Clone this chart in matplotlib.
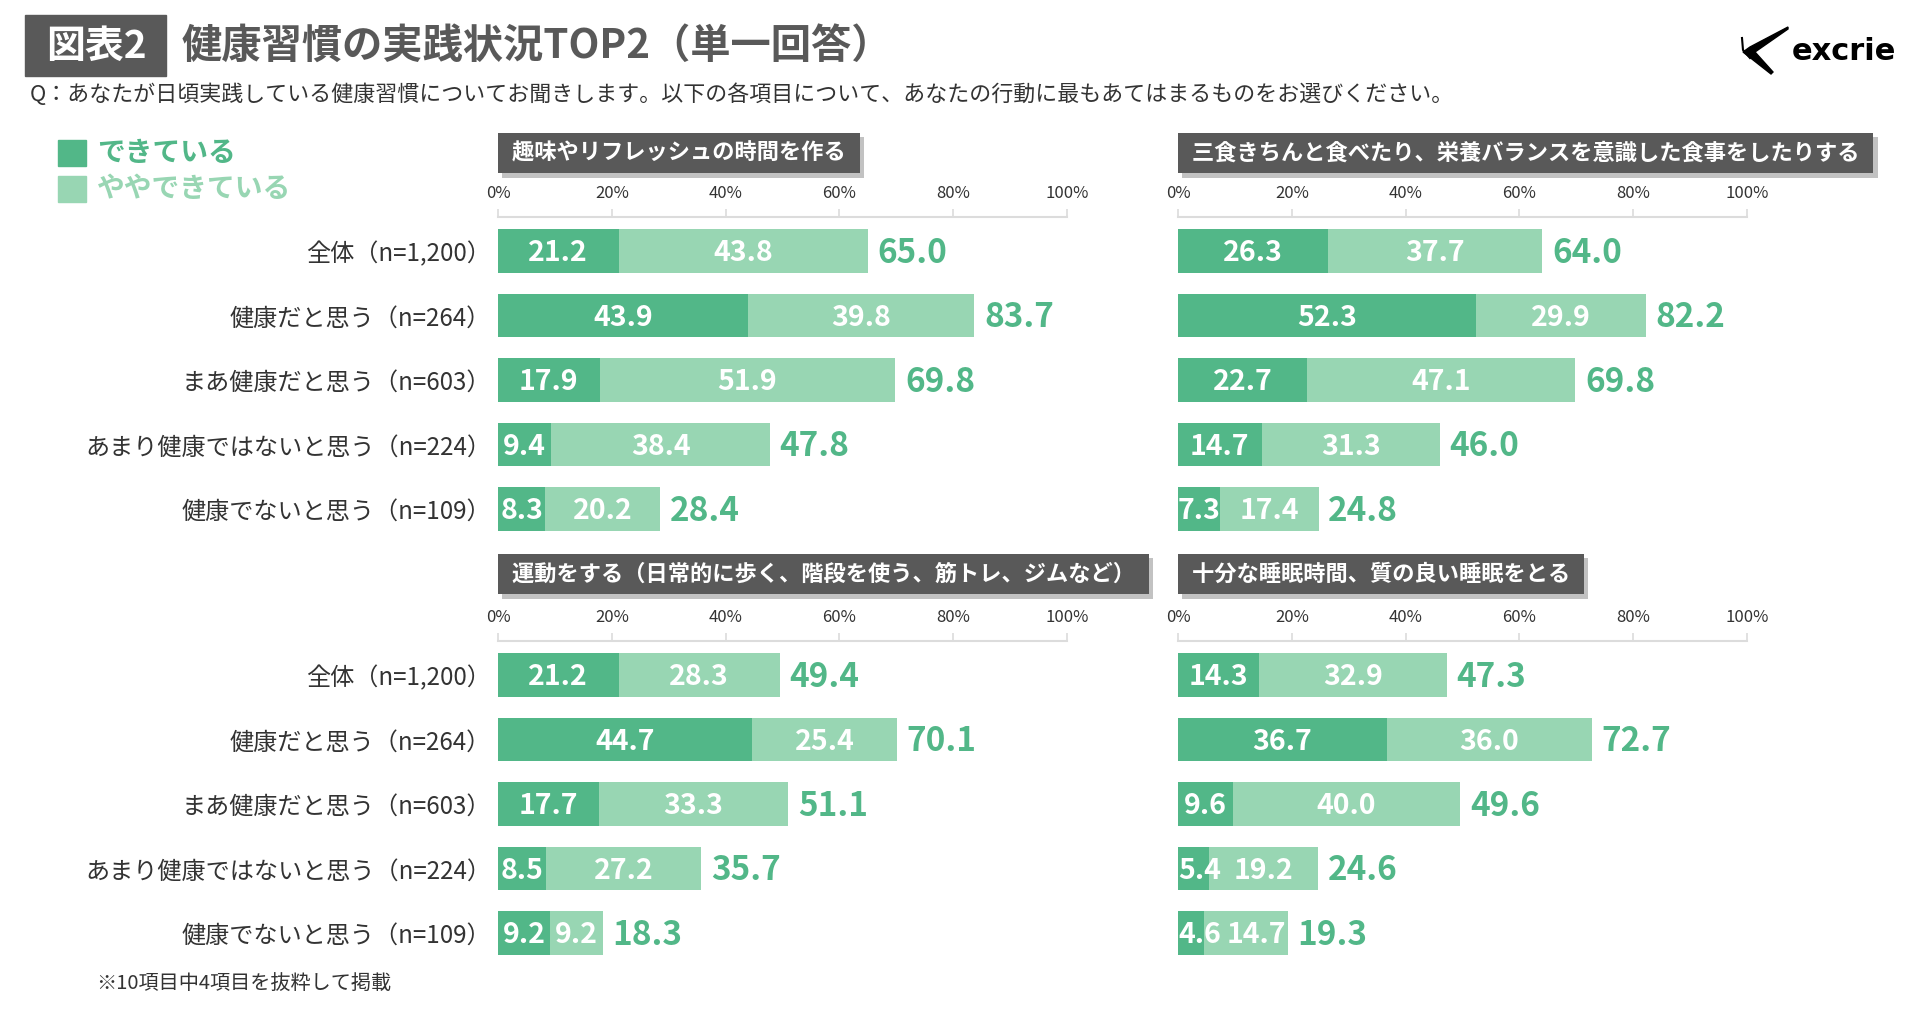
import numpy as np
import matplotlib
matplotlib.use("Agg")
import matplotlib.pyplot as plt
from matplotlib.patches import Rectangle, Polygon
import matplotlib.patheffects as pe

plt.rcParams['font.family'] = ['Noto Sans CJK JP', 'DejaVu Sans']

# ---- data ----
categories = ['全体（n=1,200）', '健康だと思う（n=264）', 'まあ健康だと思う（n=603）',
              'あまり健康ではないと思う（n=224）', '健康でないと思う（n=109）']
legend_labels = ['できている', 'ややできている']

hobby_title = '趣味やリフレッシュの時間を作る'
hobby_done = [21.2, 43.9, 17.9, 9.4, 8.3]
hobby_some = [43.8, 39.8, 51.9, 38.4, 20.2]
hobby_total = [65.0, 83.7, 69.8, 47.8, 28.4]

meal_title = '三食きちんと食べたり、栄養バランスを意識した食事をしたりする'
meal_done = [26.3, 52.3, 22.7, 14.7, 7.3]
meal_some = [37.7, 29.9, 47.1, 31.3, 17.4]
meal_total = [64.0, 82.2, 69.8, 46.0, 24.8]

exercise_title = '運動をする（日常的に歩く、階段を使う、筋トレ、ジムなど）'
exercise_done = [21.2, 44.7, 17.7, 8.5, 9.2]
exercise_some = [28.3, 25.4, 33.3, 27.2, 9.2]
exercise_total = [49.4, 70.1, 51.1, 35.7, 18.3]

sleep_title = '十分な睡眠時間、質の良い睡眠をとる'
sleep_done = [14.3, 36.7, 9.6, 5.4, 4.6]
sleep_some = [32.9, 36.0, 40.0, 19.2, 14.7]
sleep_total = [47.3, 72.7, 49.6, 24.6, 19.3]

x_ticks = [0, 20, 40, 60, 80, 100]

# ---- style ----
DARK = '#52b788'
LIGHT = '#98d6b3'
GREY = '#595959'
TEXT = '#333333'
W, H = 1919, 1009
STEP = 64.5          # row pitch in pixels
AX_W = 569           # 0-100% width in pixels


def fx(px):
    return px / W


def fy(py):
    return 1 - py / H


fig = plt.figure(figsize=(W / 100, H / 100), dpi=100)

# header
fig.add_artist(Rectangle((fx(25), fy(76)), fx(141), 61 / H, color=GREY,
                         transform=fig.transFigure))
fig.text(fx(96), fy(46), '図表2', color='white', fontsize=28, fontweight='bold',
         ha='center', va='center')
fig.text(fx(182), fy(46), '健康習慣の実践状況TOP2（単一回答）', color=GREY, fontsize=29,
         fontweight='bold', ha='left', va='center')
fig.text(fx(30), fy(95), 'Q：あなたが日頃実践している健康習慣についてお聞きします。'
         '以下の各項目について、あなたの行動に最もあてはまるものをお選びください。',
         color=TEXT, fontsize=15.8, ha='left', va='center')

# logo
mark = [(1788, 27), (1750, 47), (1743, 52), (1771, 74), (1773, 72),
        (1755, 52), (1788, 29)]
fig.add_artist(Polygon([(fx(a), fy(b)) for a, b in mark], closed=True,
                       color='black', transform=fig.transFigure))
fig.add_artist(plt.Line2D([fx(1742), fx(1743), fx(1750)], [fy(38), fy(50), fy(58)],
                          color='black', lw=1.5, transform=fig.transFigure))
fig.text(fx(1792), fy(51), 'excrie', color='black', fontsize=22, fontweight='bold',
         ha='left', va='center', family=['DejaVu Sans'])

# legend
for i, (lab, col) in enumerate(zip(legend_labels, [DARK, LIGHT])):
    y0 = 140 + i * 36
    fig.add_artist(Rectangle((fx(58), fy(y0 + 26)), fx(28), 26 / H, color=col,
                             transform=fig.transFigure))
    fig.text(fx(97), fy(y0 + 13), lab, color=col, fontsize=20, fontweight='bold',
             ha='left', va='center')

# footnote
fig.text(fx(96), fy(984), '※10項目中4項目を抜粋して掲載', color=TEXT, fontsize=14.5,
         ha='left', va='center')

# (title, done, some, total, left px, axis-line px, title box top px, show categories)
panels = [
    (hobby_title, hobby_done, hobby_some, hobby_total, 498, 217, 134, True),
    (meal_title, meal_done, meal_some, meal_total, 1178, 217, 134, False),
    (exercise_title, exercise_done, exercise_some, exercise_total, 498, 641, 555, True),
    (sleep_title, sleep_done, sleep_some, sleep_total, 1178, 641, 555, False),
]

y = np.arange(len(categories))
for title, done, some, total, left, top, box_top, show_cats in panels:
    bottom = top + 34 + 4.5 * STEP
    ax = fig.add_axes([fx(left), fy(bottom), AX_W / W, (bottom - top) / H])
    span = (bottom - top) / STEP
    ax.set_xlim(0, 100)
    ax.set_ylim(4.5, 4.5 - span)

    ax.barh(y, done, height=0.667, color=DARK)
    ax.barh(y, some, left=done, height=0.667, color=LIGHT)
    for i in range(len(y)):
        cx = done[i] + some[i] / 2
        # tiny first segments: label starts at the bar's left edge,
        # and the next label is nudged right so the two do not collide
        if done[i] < 7:
            ax.annotate(f'{done[i]:.1f}', (0, i), xytext=(0, -1.5),
                        textcoords='offset points', ha='left', va='center',
                        color='white', fontsize=20.5, fontweight='bold')
            cx = max(cx, 13.8)
        else:
            ax.annotate(f'{done[i]:.1f}', (done[i] / 2, i), xytext=(0, -1.5),
                        textcoords='offset points', ha='center', va='center',
                        color='white', fontsize=20.5, fontweight='bold')
        ax.annotate(f'{some[i]:.1f}', (cx, i), xytext=(0, -1.5),
                    textcoords='offset points', ha='center', va='center',
                    color='white', fontsize=20.5, fontweight='bold')
        ax.annotate(f'{total[i]:.1f}', (done[i] + some[i], i), xytext=(7, -1.5),
                    textcoords='offset points', ha='left', va='center',
                    color=DARK, fontsize=24, fontweight='bold')

    for s in ['left', 'right', 'bottom']:
        ax.spines[s].set_visible(False)
    ax.spines['top'].set_color('#dcdcdc')
    ax.spines['top'].set_linewidth(1.5)
    ax.xaxis.tick_top()
    ax.set_xticks(x_ticks)
    ax.set_xticklabels([f'{t}%' for t in x_ticks])
    ax.tick_params(axis='x', direction='out', length=6, color='#dcdcdc', width=1.2,
                   pad=5, labelsize=12, labelcolor=TEXT)
    ax.set_yticks(y)
    if show_cats:
        ax.set_yticklabels(categories)
        ax.tick_params(axis='y', length=0, pad=5, labelsize=17.4, labelcolor=TEXT)
    else:
        ax.set_yticklabels([])
        ax.tick_params(axis='y', length=0)
    ax.set_facecolor('none')

    # panel title box
    t = fig.text(fx(left + 9), fy(box_top + 19), ' ' + title + ' ', color='white',
                 fontsize=16, fontweight='bold', ha='left', va='center',
                 bbox=dict(boxstyle='square,pad=0.4', fc=GREY, ec='none'))
    t.get_bbox_patch().set_path_effects([
        pe.SimplePatchShadow(offset=(3, -3), shadow_rgbFace='#9a9a9a', alpha=0.6),
        pe.Normal()])

fig.savefig('out.png', dpi=100)
